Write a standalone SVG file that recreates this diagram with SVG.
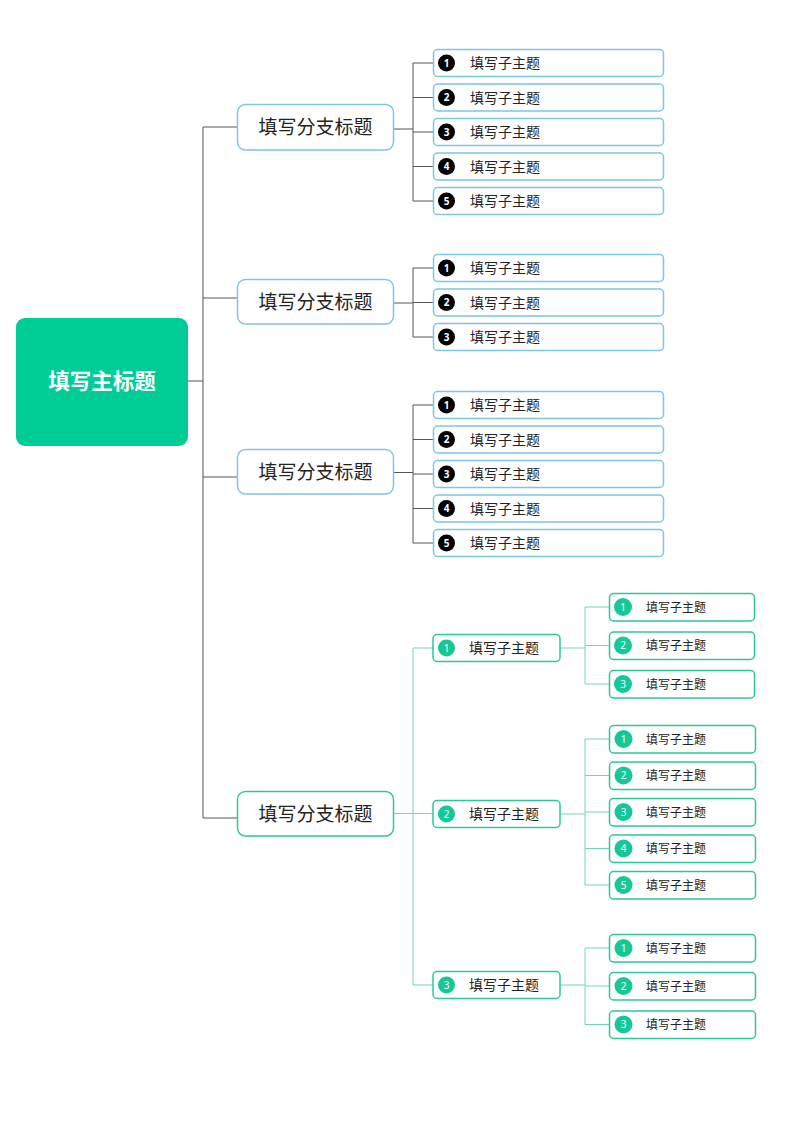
<svg xmlns="http://www.w3.org/2000/svg" width="800" height="1131" viewBox="0 0 800 1131">
<style>
.t{font-family:"Noto Sans CJK SC","Noto Sans",sans-serif;fill:#222;}
.rootbox{fill:#00CC96;}
.br{fill:#fff;stroke:#7cc8e2;stroke-width:1.5;}
.brg{fill:#fff;stroke:#2cc79d;stroke-width:1.5;}
.lf{fill:#fff;stroke:#7cc8e2;stroke-width:1.5;}
.lfg{fill:#fff;stroke:#2cc79d;stroke-width:1.5;}
.dk{fill:#000;}
.gc{fill:#14c997;}
.num{font-family:"Noto Sans","DejaVu Sans",sans-serif;fill:#fff;text-anchor:middle;}
.ln{fill:none;stroke:#555;stroke-width:1;}
.lg{fill:none;stroke:#72d6bb;stroke-width:1;}
</style>
<rect width="800" height="1131" fill="#fff"/>
<g id="connectors">
<path class="ln" d="M188,381 H203 M203,127 V818 M203,127 H237 M203,298 H237 M203,477 H237 M203,818 H237"/>
<path class="ln" d="M393,129 H413 M413,63 V201 M413,63 H433 M413,97.5 H433 M413,132 H433 M413,166.5 H433 M413,201 H433"/>
<path class="ln" d="M393,303 H413 M413,268 V337 M413,268 H433 M413,302.5 H433 M413,337 H433"/>
<path class="ln" d="M393,472.5 H413 M413,405 V543 M413,405 H433 M413,439.5 H433 M413,474 H433 M413,508.5 H433 M413,543 H433"/>
<path class="lg" d="M393,813.5 H433 M413,648 V985 M413,648 H433 M413,985 H433"/>
<path class="lg" d="M560,648 H585 M585,607 V684 M585,607 H609 M585,645.5 H609 M585,684 H609"/>
<path class="lg" d="M560,814 H585 M585,739 V885 M585,739 H609 M585,775.5 H609 M585,812 H609 M585,848.5 H609 M585,885 H609"/>
<path class="lg" d="M560,985 H585 M585,948 V1024.5 M585,948 H609 M585,986 H609 M585,1024.5 H609"/>
</g>
<g id="root">
<rect class="rootbox" x="16" y="318" width="172" height="128" rx="9"/>
<text class="t" x="102" y="389" font-size="21.5" font-weight="bold" text-anchor="middle" style="fill:#fff">填写主标题</text>
</g>
<g id="branch1">
<rect class="br" x="237.5" y="104.5" width="156" height="45.5" rx="8"/>
<text class="t" x="315.5" y="134" font-size="19" text-anchor="middle">填写分支标题</text>
</g>
<g id="branch2">
<rect class="br" x="237.5" y="279.5" width="156" height="44.5" rx="8"/>
<text class="t" x="315.5" y="308.5" font-size="19" text-anchor="middle">填写分支标题</text>
</g>
<g id="branch3">
<rect class="br" x="237.5" y="449.5" width="156" height="44.5" rx="8"/>
<text class="t" x="315.5" y="478.5" font-size="19" text-anchor="middle">填写分支标题</text>
</g>
<g id="branch4">
<rect class="brg" x="237.5" y="791.5" width="156" height="44.5" rx="8"/>
<text class="t" x="315.5" y="820.5" font-size="19" text-anchor="middle">填写分支标题</text>
</g>
<!-- branch1 leaves -->
<g id="b1l1"><rect class="lf" x="433.5" y="49.5" width="230" height="27" rx="4"/><circle class="dk" cx="446.5" cy="63" r="8.5"/><text class="num" x="446.5" y="66.5" font-size="10" font-weight="bold">1</text><text class="t" x="470" y="68" font-size="14">填写子主题</text></g>
<g id="b1l2"><rect class="lf" x="433.5" y="84" width="230" height="27" rx="4"/><circle class="dk" cx="446.5" cy="97.5" r="8.5"/><text class="num" x="446.5" y="101" font-size="10" font-weight="bold">2</text><text class="t" x="470" y="102.5" font-size="14">填写子主题</text></g>
<g id="b1l3"><rect class="lf" x="433.5" y="118.5" width="230" height="27" rx="4"/><circle class="dk" cx="446.5" cy="132" r="8.5"/><text class="num" x="446.5" y="135.5" font-size="10" font-weight="bold">3</text><text class="t" x="470" y="137" font-size="14">填写子主题</text></g>
<g id="b1l4"><rect class="lf" x="433.5" y="153" width="230" height="27" rx="4"/><circle class="dk" cx="446.5" cy="166.5" r="8.5"/><text class="num" x="446.5" y="170" font-size="10" font-weight="bold">4</text><text class="t" x="470" y="171.5" font-size="14">填写子主题</text></g>
<g id="b1l5"><rect class="lf" x="433.5" y="187.5" width="230" height="27" rx="4"/><circle class="dk" cx="446.5" cy="201" r="8.5"/><text class="num" x="446.5" y="204.5" font-size="10" font-weight="bold">5</text><text class="t" x="470" y="206" font-size="14">填写子主题</text></g>
<!-- branch2 leaves -->
<g id="b2l1"><rect class="lf" x="433.5" y="254.5" width="230" height="27" rx="4"/><circle class="dk" cx="446.5" cy="268" r="8.5"/><text class="num" x="446.5" y="271.5" font-size="10" font-weight="bold">1</text><text class="t" x="470" y="273" font-size="14">填写子主题</text></g>
<g id="b2l2"><rect class="lf" x="433.5" y="289" width="230" height="27" rx="4"/><circle class="dk" cx="446.5" cy="302.5" r="8.5"/><text class="num" x="446.5" y="306" font-size="10" font-weight="bold">2</text><text class="t" x="470" y="307.5" font-size="14">填写子主题</text></g>
<g id="b2l3"><rect class="lf" x="433.5" y="323.5" width="230" height="27" rx="4"/><circle class="dk" cx="446.5" cy="337" r="8.5"/><text class="num" x="446.5" y="340.5" font-size="10" font-weight="bold">3</text><text class="t" x="470" y="342" font-size="14">填写子主题</text></g>
<!-- branch3 leaves -->
<g id="b3l1"><rect class="lf" x="433.5" y="391.5" width="230" height="27" rx="4"/><circle class="dk" cx="446.5" cy="405" r="8.5"/><text class="num" x="446.5" y="408.5" font-size="10" font-weight="bold">1</text><text class="t" x="470" y="410" font-size="14">填写子主题</text></g>
<g id="b3l2"><rect class="lf" x="433.5" y="426" width="230" height="27" rx="4"/><circle class="dk" cx="446.5" cy="439.5" r="8.5"/><text class="num" x="446.5" y="443" font-size="10" font-weight="bold">2</text><text class="t" x="470" y="444.5" font-size="14">填写子主题</text></g>
<g id="b3l3"><rect class="lf" x="433.5" y="460.5" width="230" height="27" rx="4"/><circle class="dk" cx="446.5" cy="474" r="8.5"/><text class="num" x="446.5" y="477.5" font-size="10" font-weight="bold">3</text><text class="t" x="470" y="479" font-size="14">填写子主题</text></g>
<g id="b3l4"><rect class="lf" x="433.5" y="495" width="230" height="27" rx="4"/><circle class="dk" cx="446.5" cy="508.5" r="8.5"/><text class="num" x="446.5" y="512" font-size="10" font-weight="bold">4</text><text class="t" x="470" y="513.5" font-size="14">填写子主题</text></g>
<g id="b3l5"><rect class="lf" x="433.5" y="529.5" width="230" height="27" rx="4"/><circle class="dk" cx="446.5" cy="543" r="8.5"/><text class="num" x="446.5" y="546.5" font-size="10" font-weight="bold">5</text><text class="t" x="470" y="548" font-size="14">填写子主题</text></g>
<!-- branch4 sub nodes -->
<g id="b4s1"><rect class="lfg" x="433" y="634.5" width="127" height="27" rx="4"/><circle class="gc" cx="446.5" cy="648" r="8.5"/><text class="num" x="446.5" y="651.5" font-size="10">1</text><text class="t" x="469" y="653" font-size="14">填写子主题</text></g>
<g id="b4s2"><rect class="lfg" x="433" y="800.5" width="127" height="27" rx="4"/><circle class="gc" cx="446.5" cy="814" r="8.5"/><text class="num" x="446.5" y="817.5" font-size="10">2</text><text class="t" x="469" y="819" font-size="14">填写子主题</text></g>
<g id="b4s3"><rect class="lfg" x="433" y="971.5" width="127" height="27" rx="4"/><circle class="gc" cx="446.5" cy="985" r="8.5"/><text class="num" x="446.5" y="988.5" font-size="10">3</text><text class="t" x="469" y="990" font-size="14">填写子主题</text></g>
<!-- group1 leaves -->
<g id="g1l1"><rect class="lfg" x="609.5" y="593.5" width="145" height="27.5" rx="4"/><circle class="gc" cx="623" cy="607" r="9"/><text class="num" x="623" y="610.5" font-size="10">1</text><text class="t" x="646" y="611.5" font-size="12">填写子主题</text></g>
<g id="g1l2"><rect class="lfg" x="609.5" y="632" width="145" height="27.5" rx="4"/><circle class="gc" cx="623" cy="645.5" r="9"/><text class="num" x="623" y="649" font-size="10">2</text><text class="t" x="646" y="650" font-size="12">填写子主题</text></g>
<g id="g1l3"><rect class="lfg" x="609.5" y="670.5" width="145" height="27.5" rx="4"/><circle class="gc" cx="623" cy="684" r="9"/><text class="num" x="623" y="687.5" font-size="10">3</text><text class="t" x="646" y="688.5" font-size="12">填写子主题</text></g>
<!-- group2 leaves -->
<g id="g2l1"><rect class="lfg" x="609.5" y="725.5" width="146" height="27.5" rx="4"/><circle class="gc" cx="623.5" cy="739" r="9"/><text class="num" x="623.5" y="742.5" font-size="10">1</text><text class="t" x="646" y="743.5" font-size="12">填写子主题</text></g>
<g id="g2l2"><rect class="lfg" x="609.5" y="762" width="146" height="27.5" rx="4"/><circle class="gc" cx="623.5" cy="775.5" r="9"/><text class="num" x="623.5" y="779" font-size="10">2</text><text class="t" x="646" y="780" font-size="12">填写子主题</text></g>
<g id="g2l3"><rect class="lfg" x="609.5" y="798.5" width="146" height="27.5" rx="4"/><circle class="gc" cx="623.5" cy="812" r="9"/><text class="num" x="623.5" y="815.5" font-size="10">3</text><text class="t" x="646" y="816.5" font-size="12">填写子主题</text></g>
<g id="g2l4"><rect class="lfg" x="609.5" y="835" width="146" height="27.5" rx="4"/><circle class="gc" cx="623.5" cy="848.5" r="9"/><text class="num" x="623.5" y="852" font-size="10">4</text><text class="t" x="646" y="853" font-size="12">填写子主题</text></g>
<g id="g2l5"><rect class="lfg" x="609.5" y="871.5" width="146" height="27.5" rx="4"/><circle class="gc" cx="623.5" cy="885" r="9"/><text class="num" x="623.5" y="888.5" font-size="10">5</text><text class="t" x="646" y="889.5" font-size="12">填写子主题</text></g>
<!-- group3 leaves -->
<g id="g3l1"><rect class="lfg" x="609.5" y="934.5" width="146" height="27.5" rx="4"/><circle class="gc" cx="623.5" cy="948" r="9"/><text class="num" x="623.5" y="951.5" font-size="10">1</text><text class="t" x="646" y="952.5" font-size="12">填写子主题</text></g>
<g id="g3l2"><rect class="lfg" x="609.5" y="972.5" width="146" height="27.5" rx="4"/><circle class="gc" cx="623.5" cy="986" r="9"/><text class="num" x="623.5" y="989.5" font-size="10">2</text><text class="t" x="646" y="990.5" font-size="12">填写子主题</text></g>
<g id="g3l3"><rect class="lfg" x="609.5" y="1011" width="146" height="27.5" rx="4"/><circle class="gc" cx="623.5" cy="1024.5" r="9"/><text class="num" x="623.5" y="1028" font-size="10">3</text><text class="t" x="646" y="1029" font-size="12">填写子主题</text></g>
</svg>
